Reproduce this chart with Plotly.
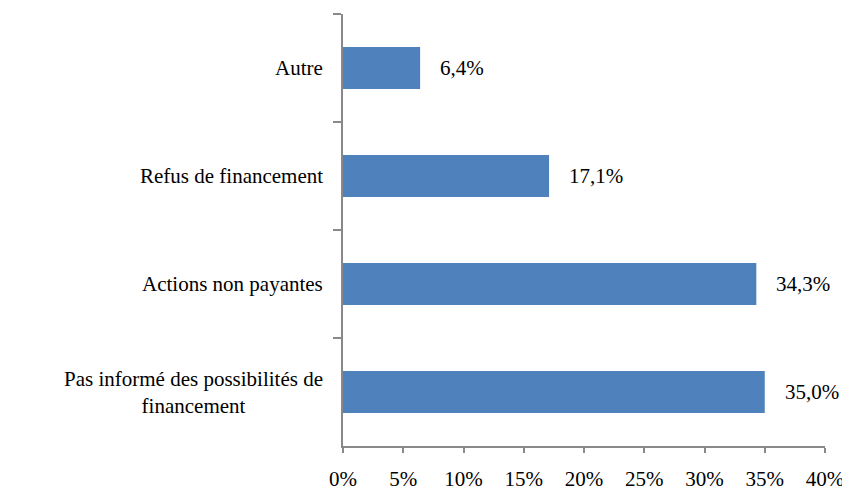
import plotly.graph_objects as go

categories = ["Autre", "Refus de financement", "Actions non payantes",
              "Pas informé des possibilités de financement"]
category_labels = ["Autre", "Refus de financement", "Actions non payantes",
                   "Pas informé des possibilités de<br>financement"]
values = [6.4, 17.1, 34.3, 35.0]
tick_values = [0, 5, 10, 15, 20, 25, 30, 35, 40]

font = "Liberation Serif, Times New Roman, serif"
axis_grey = "#898989"

fig = go.Figure()
fig.add_trace(go.Bar(
    x=values,
    y=categories,
    orientation="h",
    marker=dict(color="#4F81BD", line=dict(width=0)),
    hoverinfo="skip",
))

# value labels, french decimal comma
for cat, v in zip(categories, values):
    fig.add_annotation(
        x=v, y=cat, xref="x", yref="y",
        text=f"{v:.1f}".replace(".", ",") + "%",
        showarrow=False, xanchor="left", xshift=18,
        font=dict(family=font, size=21, color="black"),
    )

# category labels (centred lines, right of block at the axis)
for cat, lab in zip(categories, category_labels):
    fig.add_annotation(
        x=0, y=cat, xref="paper", yref="y",
        text=lab, showarrow=False, xanchor="right", xshift=-18,
        align="center",
        font=dict(family=font, size=21, color="black"),
    )

# page body keeps its default 8px margin, so the figure is sized to fit
fig.update_layout(
    width=842, height=483,
    margin=dict(l=335, r=25, t=6, b=45, autoexpand=False),
    paper_bgcolor="white", plot_bgcolor="white",
    bargap=0.61,
    showlegend=False,
    font=dict(family=font, size=21, color="black"),
)
fig.update_xaxes(
    range=[0, 40],
    tickvals=tick_values,
    ticktext=[f"{t}%" for t in tick_values],
    showgrid=False, zeroline=False, automargin=False,
    showline=True, linecolor=axis_grey, linewidth=2,
    ticks="outside", ticklen=5, tickwidth=2, tickcolor=axis_grey,
    ticklabelstandoff=8,
    tickfont=dict(family=font, size=21, color="black"),
)
fig.update_yaxes(
    autorange="reversed",
    showticklabels=False,
    showgrid=False, zeroline=False, automargin=False,
    showline=True, linecolor=axis_grey, linewidth=2,
    ticks="outside", tickson="boundaries", ticklen=8, tickwidth=2,
    tickcolor=axis_grey,
)

fig.write_html("out.html")
